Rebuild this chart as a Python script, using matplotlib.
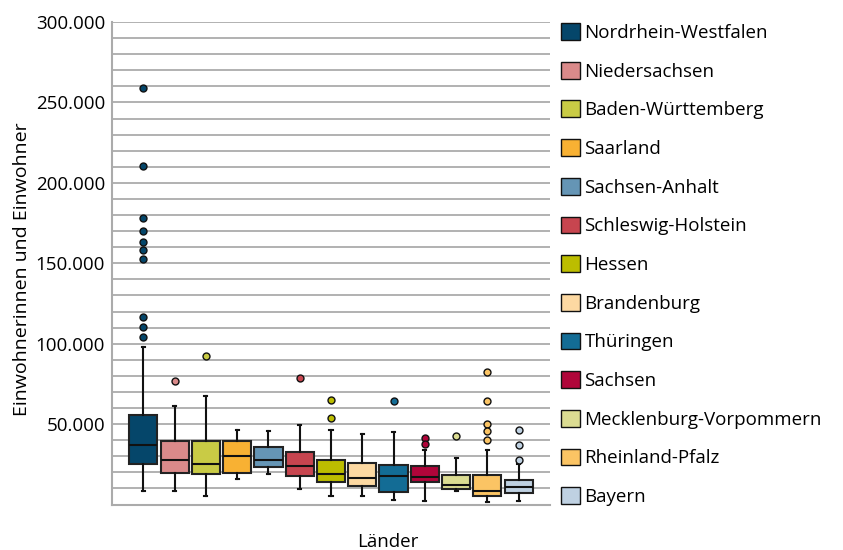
import matplotlib.pyplot as plt
from matplotlib.patches import Patch
from matplotlib.ticker import MultipleLocator, FuncFormatter

plt.rcParams['font.family'] = ['Open Sans', 'DejaVu Sans']

laender = ['Nordrhein-Westfalen', 'Niedersachsen', 'Baden-Württemberg', 'Saarland',
           'Sachsen-Anhalt', 'Schleswig-Holstein', 'Hessen', 'Brandenburg',
           'Thüringen', 'Sachsen', 'Mecklenburg-Vorpommern', 'Rheinland-Pfalz', 'Bayern']
farben = ['#05466a', '#da8a8a', '#c9cb45', '#f8b133', '#6595b5', '#c7454f', '#bcbd00',
          '#fdd9a2', '#136c95', '#b0053a', '#dbdc92', '#fbc464', '#bfd1e2']

# box statistics
q1 = [25000, 19600, 18750, 19600, 23500, 17900, 14000, 11300, 7600, 14000, 9800, 5300, 7000]
median = [36800, 27400, 25300, 29900, 27600, 23700, 19100, 16500, 17900, 17100, 11900, 8200, 11100]
q3 = [55600, 39600, 39600, 39600, 35700, 32400, 27600, 25600, 24500, 23700, 18100, 18100, 15000]
whis_lo = [8600, 8600, 5300, 15600, 18900, 9400, 5300, 5300, 2800, 2200, 8600, 1400, 2200]
whis_hi = [98000, 61000, 67600, 46500, 45900, 49200, 46100, 43600, 45200, 33800, 29100, 33800, 25500]
ausreisser = [
    [259100, 210700, 178400, 170000, 163400, 158500, 152900, 116600, 110400, 104000],
    [76700],
    [92600],
    [],
    [],
    [78400],
    [64900, 53700],
    [],
    [64100],
    [41100, 37800],
    [42500],
    [82300, 64100, 49800, 45600, 40000],
    [46500, 37000, 27800],
]

fig = plt.figure(figsize=(8.43, 5.5), dpi=100)
ax = fig.add_axes([0.1329, 0.0827, 0.5195, 0.8773])

stats = []
for i in range(len(laender)):
    stats.append(dict(med=median[i], q1=q1[i], q3=q3[i], whislo=whis_lo[i],
                      whishi=whis_hi[i], fliers=ausreisser[i]))

pos = list(range(1, len(laender) + 1))
bp = ax.bxp(stats, positions=pos, widths=0.9, patch_artist=True, capwidths=0.1,
            boxprops=dict(edgecolor='#222222', linewidth=1.5),
            medianprops=dict(color='#111111', linewidth=1.5),
            whiskerprops=dict(color='#111111', linewidth=1.5),
            capprops=dict(color='#111111', linewidth=1.5))
for box, fl, c in zip(bp['boxes'], bp['fliers'], farben):
    box.set_facecolor(c)
    fl.set_marker('o')
    fl.set_markerfacecolor(c)
    fl.set_markeredgecolor('#111111')
    fl.set_markersize(5)
    fl.set_markeredgewidth(1)

ax.set_xlim(0, 14)
ax.set_ylim(0, 300000)
ax.set_xticks([])
ax.yaxis.set_major_locator(MultipleLocator(50000))
ax.yaxis.set_minor_locator(MultipleLocator(10000))
ax.yaxis.set_major_formatter(FuncFormatter(lambda v, p: '' if v == 0 else f'{int(v):,}'.replace(',', '.')))
ax.tick_params(axis='y', which='both', length=0, labelsize=13.5, pad=5)
ax.grid(axis='y', which='both', color='#ababab', linewidth=1.3)
ax.set_axisbelow(True)
for s in ['top', 'right']:
    ax.spines[s].set_visible(False)
for s in ['left', 'bottom']:
    ax.spines[s].set_color('#ababab')
    ax.spines[s].set_linewidth(1.5)

handles = [Patch(facecolor=c, edgecolor='#111111', linewidth=1) for c in farben]
fig.legend(handles, laender, loc='upper left', bbox_to_anchor=(0.6655, 0.958),
           frameon=False, fontsize=13.5, borderpad=0, borderaxespad=0,
           handlelength=1.0, handleheight=1.0, handletextpad=0.25, labelspacing=1.06)

fig.text(388 / 843, 1 - 542 / 550, 'Länder', ha='center', va='center', fontsize=13.5)
fig.text(22 / 843, 1 - 269 / 550, 'Einwohnerinnen und Einwohner', rotation=90,
         ha='center', va='center', fontsize=14)

fig.savefig('out.png', dpi=100)
